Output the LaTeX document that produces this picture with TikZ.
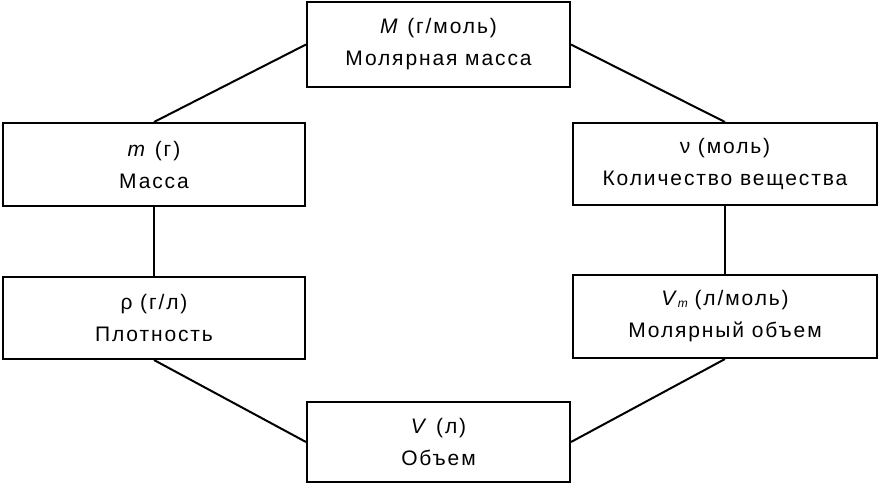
\documentclass[tikz,border=0pt]{standalone}
\usepackage{fontspec}
\setmainfont{Liberation Sans}[LetterSpace=9]
\begin{document}
\begin{tikzpicture}[x=1pt,y=-1pt,
  box/.style={draw,line width=2pt,inner sep=0pt,align=center,
    font=\fontsize{21}{32}\selectfont},
  link/.style={line width=2pt}]
\useasboundingbox (0,0) rectangle (881,483);
\fill[white] (0,0) rectangle (881,483);
\node[box,minimum width=263pt,minimum height=85pt] (M) at (438.5,44.5) {\textit{M} (г/моль)\\Молярная масса};
\node[box,minimum width=302pt,minimum height=83pt] (m) at (154,164.5) {\textit{m} (г)\\Масса};
\node[box,minimum width=304pt,minimum height=82pt] (nu) at (725,164) {ν (моль)\\Количество вещества};
\node[box,minimum width=304pt,minimum height=83pt] (Vm) at (725,316.5) {\textit{V}\kern-1pt\raisebox{-1.5pt}{\fontsize{12}{12}\selectfont\textit{m}}\kern-2pt{} (л/моль)\\Молярный объем};
\node[box,minimum width=302pt,minimum height=82pt] (rho) at (154,318) {ρ (г/л)\\Плотность};
\node[box,minimum width=263pt,minimum height=80pt] (V) at (438.5,442) {\textit{V} (л)\\Объем};
\draw[link] (M.west) -- (m.north);
\draw[link] (M.east) -- (nu.north);
\draw[link] (m.south) -- (rho.north);
\draw[link] (nu.south) -- (Vm.north);
\draw[link] (rho.south) -- (V.west);
\draw[link] (Vm.south) -- (V.east);
\end{tikzpicture}
\end{document}
